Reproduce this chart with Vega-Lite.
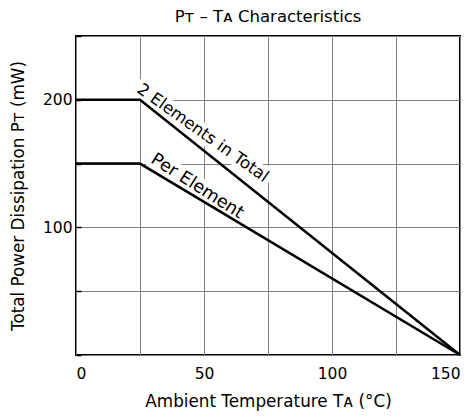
{
  "$schema": "https://vega.github.io/schema/vega-lite/v6.json",
  "autosize": {"type": "none"},
  "padding": {"left": 76, "top": 36, "right": 15, "bottom": 63},
  "width": 384,
  "height": 319,
  "background": "white",
  "title": {"text": "Pᴛ – Tᴀ Characteristics", "font": "DejaVu Sans", "fontSize": 16.5, "fontWeight": "normal", "color": "black", "offset": 10, "anchor": "middle"},
  "config": {
    "view": {"stroke": "black", "strokeWidth": 2},
    "axis": {"labelFont": "DejaVu Sans", "titleFont": "DejaVu Sans", "labelFontSize": 15.5, "titleFontSize": 16.8, "titleFontWeight": "normal", "labelColor": "black", "titleColor": "black", "gridColor": "#808080", "gridWidth": 1, "gridOpacity": 1, "domain": false}
  },
  "datasets": {
    "curves": [
      {"series": "2 Elements in Total", "ta": 0, "pt": 200},
      {"series": "2 Elements in Total", "ta": 25, "pt": 200},
      {"series": "2 Elements in Total", "ta": 150, "pt": 0},
      {"series": "Per Element", "ta": 0, "pt": 150},
      {"series": "Per Element", "ta": 25, "pt": 150},
      {"series": "Per Element", "ta": 150, "pt": 0}
    ],
    "labels": [
      {"label": "2 Elements in Total", "ta": 48.4, "pt": 170.8},
      {"label": "Per Element", "ta": 46.3, "pt": 128.9}
    ]
  },
  "layer": [
    {
      "data": {"name": "labels"},
      "mark": {"type": "text", "font": "DejaVu Sans", "align": "center", "baseline": "alphabetic", "fill": "white", "stroke": "white", "strokeWidth": 10, "strokeJoin": "round"},
      "encoding": {
        "x": {"field": "ta", "type": "quantitative", "scale": {"domain": [0, 150], "nice": false, "zero": false},
              "axis": {"values": [0, 25, 50, 75, 100, 125, 150], "labelExpr": "datum.value % 50 == 0 ? datum.label : ''", "ticks": false, "labelPadding": 11, "title": "Ambient Temperature Tᴀ (°C)", "titlePadding": 12}},
        "y": {"field": "pt", "type": "quantitative", "scale": {"domain": [0, 250], "nice": false},
              "axis": {"values": [0, 50, 100, 150, 200, 250], "labelExpr": "datum.value == 100 || datum.value == 200 ? datum.label : ''", "tickSize": -5, "tickColor": "black", "tickWidth": 1.5, "labelPadding": 9, "title": "Total Power Dissipation Pᴛ (mW)", "titlePadding": 15}},
        "text": {"field": "label"},
        "angle": {"field": "label", "type": "nominal", "scale": {"domain": ["2 Elements in Total", "Per Element"], "range": [35.5, 32.5]}, "legend": null},
        "size": {"field": "label", "type": "nominal", "scale": {"domain": ["2 Elements in Total", "Per Element"], "range": [16.5, 17.5]}, "legend": null}
      }
    },
    {
      "data": {"name": "curves"},
      "mark": {"type": "line", "color": "black", "strokeWidth": 2.5, "clip": false},
      "encoding": {
        "x": {"field": "ta", "type": "quantitative"},
        "y": {"field": "pt", "type": "quantitative"},
        "detail": {"field": "series"}
      }
    },
    {
      "data": {"name": "labels"},
      "mark": {"type": "text", "font": "DejaVu Sans", "align": "center", "baseline": "alphabetic", "fill": "black"},
      "encoding": {
        "x": {"field": "ta", "type": "quantitative"},
        "y": {"field": "pt", "type": "quantitative"},
        "text": {"field": "label"},
        "angle": {"field": "label", "type": "nominal", "scale": {"domain": ["2 Elements in Total", "Per Element"], "range": [35.5, 32.5]}, "legend": null},
        "size": {"field": "label", "type": "nominal", "scale": {"domain": ["2 Elements in Total", "Per Element"], "range": [16.5, 17.5]}, "legend": null}
      }
    }
  ]
}
